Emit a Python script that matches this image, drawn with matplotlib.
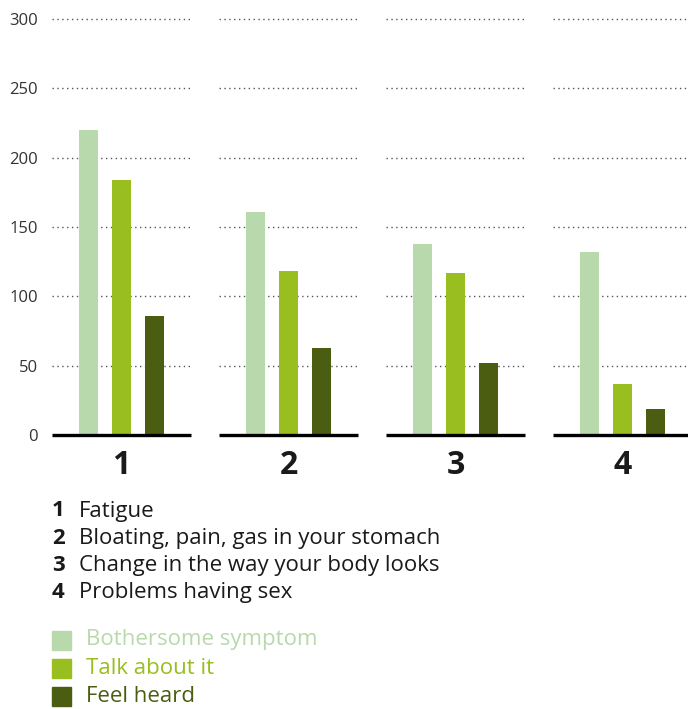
import numpy as np
import matplotlib.pyplot as plt
from matplotlib.patches import Rectangle

plt.rcParams['font.family'] = ['Open Sans', 'DejaVu Sans']

groupLabels = ["1", "2", "3", "4"]
categories = ["Fatigue", "Bloating, pain, gas in your stomach",
              "Change in the way your body looks", "Problems having sex"]
seriesNames = ["Bothersome symptom", "Talk about it", "Feel heard"]
bothersome = [220, 161, 138, 132]
talkAbout = [184, 118, 117, 37]
feelHeard = [86, 63, 52, 19]
yTicks = [0, 50, 100, 150, 200, 250, 300]

colors = ["#b8d9ab", "#98be20", "#4b5d11"]

fig = plt.figure(figsize=(6.88, 7.09), dpi=100)
ax = fig.add_axes([52/688, 1 - 435/709, 1 - 52/688, (435 - 19)/709])

x = np.arange(1, len(groupLabels) + 1)
width = 0.114
offset = 0.2
series = [bothersome, talkAbout, feelHeard]
for i in range(len(series)):
    ax.bar(x + (i - 1)*offset, series[i], width, color=colors[i], zorder=2)

half = 0.416
for xi in x:
    for t in yTicks[1:]:
        ax.plot([xi - half, xi + half], [t, t], color="#555555", lw=1,
                linestyle=(0, (1, 2.5)), zorder=1, clip_on=False)
    ax.plot([xi - half, xi + half], [0, 0], color="black", lw=2.4,
            zorder=3, clip_on=False, solid_capstyle="butt")
    ax.text(xi, -22, groupLabels[xi - 1], ha="center", va="center",
            fontsize=23, fontweight="bold", color="#1a1a1a")

ax.set_xlim(1 - half, 4.392)
ax.set_ylim(0, 300)
for s in ax.spines.values():
    s.set_visible(False)
ax.set_xticks([])
ax.set_yticks(yTicks)
ax.tick_params(axis="y", length=0, pad=10, labelsize=12, labelcolor="#333333")

# category key
for i in range(len(categories)):
    yy = 1 - (511 + 27.3*i)/709
    fig.text(52/688, yy, groupLabels[i], ha="left", va="center",
             fontsize=16, fontweight="bold", color="#1a1a1a")
    fig.text(79/688, yy, categories[i], ha="left", va="center",
             fontsize=16, color="#1a1a1a")

# series legend
for i in range(len(seriesNames)):
    yc = 640 + 28*i
    fig.patches.append(Rectangle((52/688, 1 - (yc + 9.5)/709), 19/688, 19/709,
                                 transform=fig.transFigure, color=colors[i]))
    fig.text(86/688, 1 - yc/709, seriesNames[i], ha="left", va="center",
             fontsize=16, color=colors[i])

fig.savefig("out.png", dpi=100)
